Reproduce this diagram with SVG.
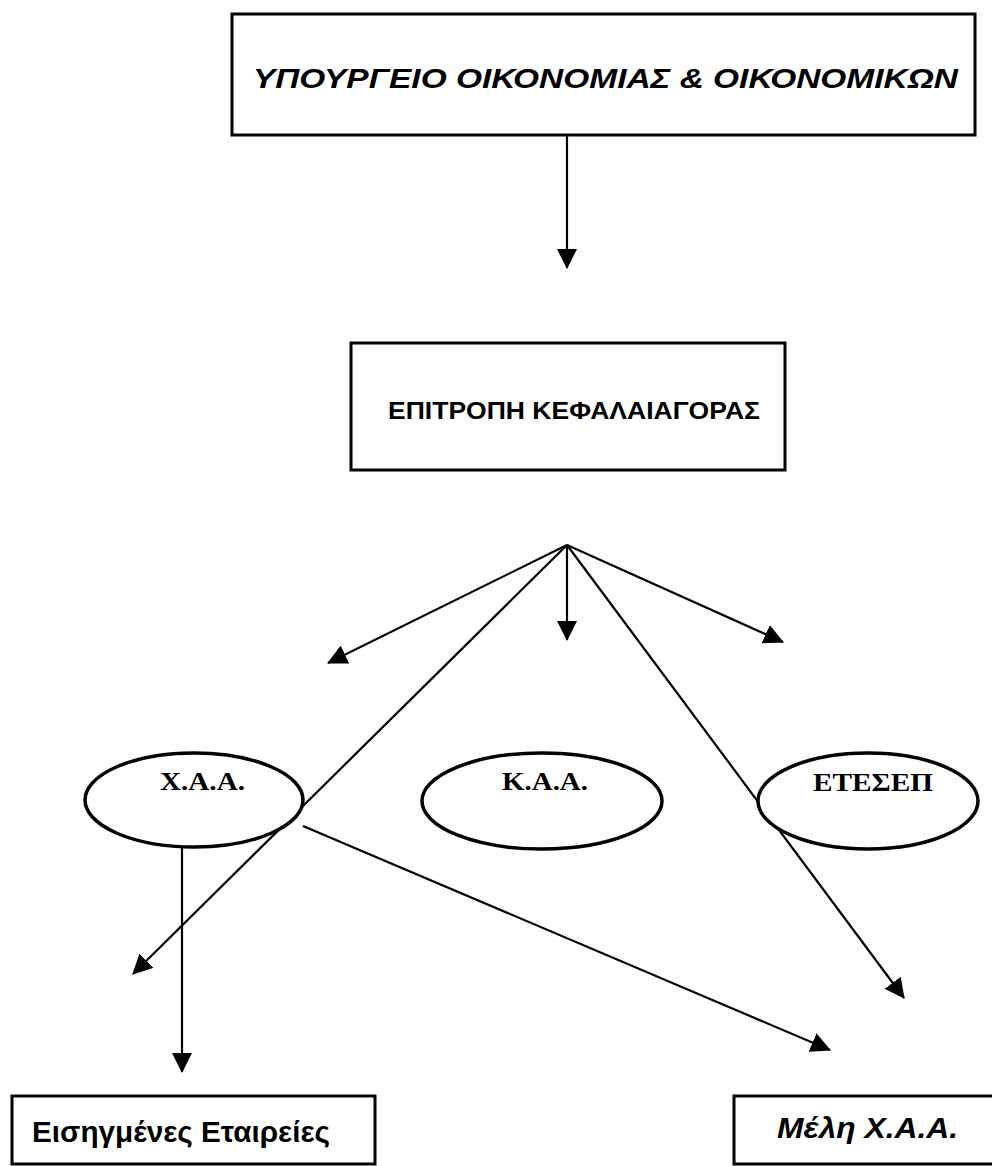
<svg xmlns="http://www.w3.org/2000/svg" width="992" height="1166" viewBox="0 0 992 1166">
<style>
.box{fill:#fff;stroke:#000;stroke-width:3}
.ell{fill:#fff;stroke:#000;stroke-width:3.5}
.con{stroke:#000;stroke-width:2.2;fill:none;marker-end:url(#ah)}
.sans{font-family:"Liberation Sans",Arial,sans-serif;font-weight:bold;fill:#000}
.serif{font-family:"Liberation Serif","Times New Roman",serif;font-weight:bold;fill:#000;font-size:25px}
</style>
<defs>
<marker id="ah" markerUnits="userSpaceOnUse" markerWidth="20" markerHeight="20" refX="19" refY="10" orient="auto">
<path d="M0,0 L20,10 L0,20 z" fill="#000"/>
</marker>
</defs>
<rect width="992" height="1166" fill="#fff"/>
<g id="connectors">
<line class="con" x1="567" y1="136" x2="567" y2="268"/>
<line class="con" x1="567" y1="545" x2="328" y2="663"/>
<line class="con" x1="567" y1="545" x2="567" y2="640"/>
<line class="con" x1="567" y1="545" x2="783" y2="642"/>
<line class="con" x1="567" y1="545" x2="133" y2="974"/>
<line class="con" x1="567" y1="545" x2="904" y2="998"/>
<line class="con" x1="182" y1="848" x2="182" y2="1072"/>
<line class="con" x1="303" y1="826" x2="830" y2="1050"/>
</g>
<g id="ministry">
<rect class="box" x="232" y="14" width="743" height="121"/>
<text class="sans" x="253" y="88" font-size="27" font-style="italic" textLength="705" lengthAdjust="spacingAndGlyphs">ΥΠΟΥΡΓΕΙΟ ΟΙΚΟΝΟΜΙΑΣ &amp; ΟΙΚΟΝΟΜΙΚΩΝ</text>
</g>
<g id="commission">
<rect class="box" x="351" y="343" width="434" height="127"/>
<text class="sans" x="388" y="419" font-size="23" textLength="372" lengthAdjust="spacingAndGlyphs">ΕΠΙΤΡΟΠΗ ΚΕΦΑΛΑΙΑΓΟΡΑΣ</text>
</g>
<g id="xaa">
<ellipse class="ell" cx="194" cy="800" rx="109" ry="47"/>
<text class="serif" x="160" y="790" textLength="85" lengthAdjust="spacingAndGlyphs">Χ.Α.Α.</text>
</g>
<g id="kaa">
<ellipse class="ell" cx="542" cy="801" rx="120" ry="48"/>
<text class="serif" x="502" y="790" textLength="86" lengthAdjust="spacingAndGlyphs">Κ.Α.Α.</text>
</g>
<g id="etesep">
<ellipse class="ell" cx="868" cy="801" rx="110" ry="48"/>
<text class="serif" x="813" y="791" textLength="120" lengthAdjust="spacingAndGlyphs">ΕΤΕΣΕΠ</text>
</g>
<g id="listed">
<rect class="box" x="12" y="1096" width="363" height="68"/>
<text class="sans" x="32" y="1142" font-size="29" textLength="298" lengthAdjust="spacingAndGlyphs">Εισηγμένες Εταιρείες</text>
</g>
<g id="members">
<rect class="box" x="734" y="1096" width="270" height="68"/>
<text class="sans" x="777" y="1138" font-size="30" font-style="italic" textLength="181" lengthAdjust="spacingAndGlyphs">Μέλη Χ.Α.Α.</text>
</g>
</svg>
